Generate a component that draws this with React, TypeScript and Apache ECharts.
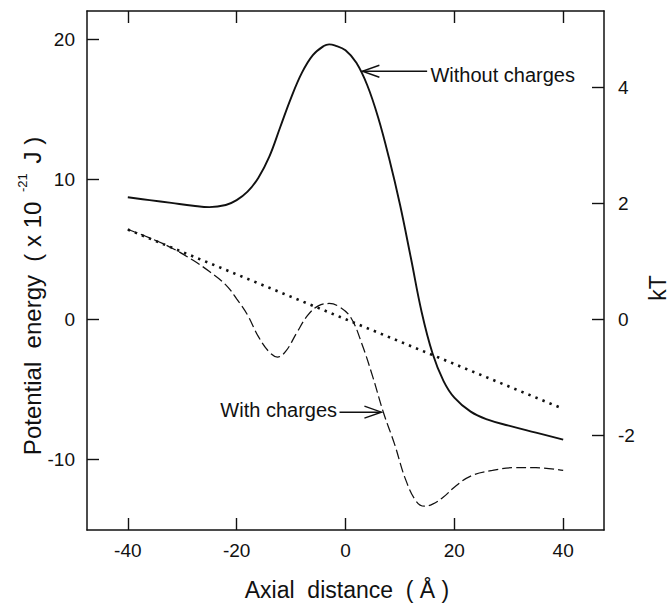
import React, { useEffect, useRef } from "react";
import * as echarts from "echarts";

// Axial distance (Å) and potential energy (x10^-21 J)
const solidX = [-40, -36, -32, -28, -25, -22, -20, -18, -16, -14, -12, -10, -8, -6, -4, -3, -2, 0, 2, 4, 6, 8, 10, 12, 14, 16, 18, 20, 23, 26, 30, 35, 40];
const solidE = [8.7, 8.5, 8.3, 8.1, 8.0, 8.15, 8.5, 9.1, 10.1, 11.6, 13.7, 15.8, 17.6, 18.85, 19.5, 19.62, 19.55, 19.2, 18.3, 16.7, 14.4, 11.5, 8.2, 4.4, 0.5, -2.45, -4.4, -5.6, -6.6, -7.15, -7.6, -8.1, -8.6];

const dashedX = [-40, -36, -32, -28, -25, -22, -20, -18, -16, -14, -12.5, -11, -9, -7, -5, -3, -1, 1, 3, 5, 7, 9, 11, 13, 14.5, 16, 18, 20, 23, 27, 31, 35, 40];
const dashedE = [6.4, 5.8, 5.1, 4.2, 3.4, 2.45, 1.45, 0.3, -1.25, -2.35, -2.7, -2.3, -1.0, 0.25, 0.95, 1.12, 0.85, 0.1, -1.75, -4.1, -6.7, -8.9, -11.4, -13.0, -13.35, -13.2, -12.7, -12.0, -11.2, -10.8, -10.6, -10.6, -10.8];

const dottedX = [-40, 40];
const dottedE = [6.4, -6.4];

const xTicks = [-40, -20, 0, 20, 40];
const yTicks = [-10, 0, 10, 20];
const kTTicks = [-2, 0, 2, 4];

const X_MIN = -47.5;
const X_MAX = 47.5;
const Y_MIN = -15.05;
const Y_MAX = 22;
const KT_IN_J = 4.14; // 1 kT in units of 10^-21 J

// annotation anchors in data coordinates
const annWithout = { tip: [3.1, 17.7], tail: [15.0, 17.7], text: [15.6, 17.4], label: "Without charges" };
const annWith = { tip: [6.6, -6.64], tail: [-1.1, -6.64], text: [-1.55, -6.45], label: "With charges" };

const FONT = "'Liberation Sans', Arial, Helvetica, sans-serif";
const INK = "#111";

const pairs = (xs: number[], ys: number[]) => xs.map((x, i) => [x, ys[i]]);

export default function App() {
  const ref = useRef<HTMLDivElement>(null);
  useEffect(() => {
    if (!ref.current) return;
    const chart = echarts.init(ref.current, null, { renderer: "svg" });
    const axisLine = { show: true, onZero: false, lineStyle: { color: INK, width: 1.5 } };
    const tick = (vals: number[]) => ({ show: true, inside: true, length: 12, customValues: vals, lineStyle: { color: INK, width: 1.4 } });
    const label = (vals: number[], margin: number) => ({ show: true, customValues: vals, fontSize: 19, color: INK, fontFamily: FONT, margin });
    chart.setOption({
      animation: false,
      backgroundColor: "#fff",
      grid: { left: 87, right: 67, top: 11, bottom: 76, containLabel: false },
      xAxis: [
        { type: "value", position: "bottom", min: X_MIN, max: X_MAX, axisLine, axisTick: tick(xTicks), axisLabel: label(xTicks, 11), splitLine: { show: false } },
        { type: "value", position: "top", min: X_MIN, max: X_MAX, axisLine, axisTick: tick(xTicks), axisLabel: { show: false }, splitLine: { show: false } },
      ],
      yAxis: [
        { type: "value", position: "left", min: Y_MIN, max: Y_MAX, axisLine, axisTick: tick(yTicks), axisLabel: label(yTicks, 12), splitLine: { show: false } },
        { type: "value", position: "right", min: Y_MIN / KT_IN_J, max: Y_MAX / KT_IN_J, axisLine, axisTick: tick(kTTicks), axisLabel: label(kTTicks, 14), splitLine: { show: false } },
      ],
      series: [
        { type: "line", name: "Without charges", data: pairs(solidX, solidE), smooth: 0.4, showSymbol: false, lineStyle: { color: INK, width: 1.9 } },
        { type: "line", name: "With charges", data: pairs(dashedX, dashedE), smooth: 0.4, showSymbol: false, lineStyle: { color: INK, width: 1.25, type: [10, 4] } },
        { type: "line", name: "Linear", data: pairs(dottedX, dottedE), showSymbol: false, lineStyle: { color: INK, width: 2.6, type: [2.4, 5.2] } },
      ],
    });

    const px = (p: number[]) => chart.convertToPixel({ xAxisIndex: 0, yAxisIndex: 0 }, p) as number[];
    const arrow = (tipD: number[], tailD: number[]) => {
      const tip = px(tipD);
      const tail = px(tailD);
      const dir = Math.sign(tail[0] - tip[0]);
      return [
        { type: "line", shape: { x1: tail[0], y1: tail[1], x2: tip[0], y2: tip[1] }, style: { stroke: INK, lineWidth: 1.4 } },
        { type: "polyline", shape: { points: [[tip[0] + dir * 17, tip[1] - 6], [tip[0], tip[1]], [tip[0] + dir * 17, tip[1] + 6]] }, style: { stroke: INK, lineWidth: 1.4, fill: "none" } },
      ];
    };
    const t1 = px(annWithout.text);
    const t2 = px(annWith.text);
    chart.setOption({
      graphic: [
        ...arrow(annWithout.tip, annWithout.tail),
        ...arrow(annWith.tip, annWith.tail),
        { type: "text", x: t1[0], y: t1[1], style: { text: annWithout.label, font: `20px ${FONT}`, fill: INK, textAlign: "left", textVerticalAlign: "middle" } },
        { type: "text", x: t2[0], y: t2[1], style: { text: annWith.label, font: `20px ${FONT}`, fill: INK, textAlign: "right", textVerticalAlign: "middle" } },
        { type: "text", x: 347, y: 590, style: { text: "Axial  distance  ( Å )", font: `23px ${FONT}`, fill: INK, textAlign: "center", textVerticalAlign: "middle" } },
        {
          type: "text", x: 30, y: 296, rotation: Math.PI / 2,
          style: {
            text: "{a|Potential  energy  ( x 10 }{s|-21}{a| J )}",
            textAlign: "center", textVerticalAlign: "middle",
            rich: {
              a: { font: `24px ${FONT}`, fill: INK, lineHeight: 28, verticalAlign: "bottom" },
              s: { font: `13px ${FONT}`, fill: INK, lineHeight: 14, verticalAlign: "top", padding: [0, 3, 0, 3] },
            },
          },
        },
        { type: "text", x: 658, y: 288, rotation: Math.PI / 2, style: { text: "kT", font: `23px ${FONT}`, fill: INK, textAlign: "center", textVerticalAlign: "middle" } },
      ],
    });
    return () => chart.dispose();
  }, []);
  return <div ref={ref} style={{ width: 671, height: 606, position: "absolute", left: 0, top: 0 }} />;
}
